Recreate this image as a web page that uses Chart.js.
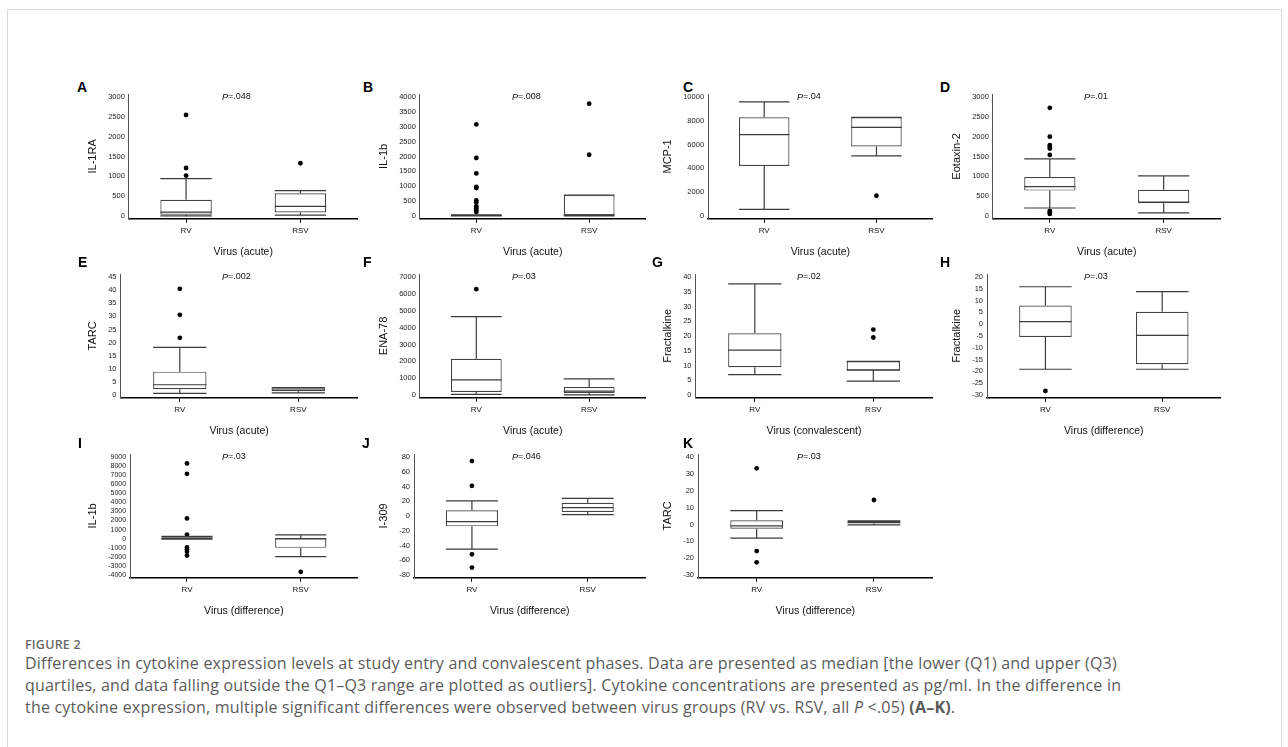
<!DOCTYPE html>
<html lang="en">
<head>
<meta charset="UTF-8">
<title>Figure 2</title>
<script src="https://cdn.jsdelivr.net/npm/chart.js"></script>
<style>
  body { margin: 0; background: #fff; }
  #figura { position: relative; width: 1288px; height: 747px; overflow: hidden; background: #fff; }
  .moldura { position: absolute; left: 7px; top: 9px; width: 1273px; height: 780px; border: 1px solid #dadada; }
  .painel { position: absolute; }
  .letra { position: absolute; font: bold 14px "Liberation Sans", Arial, sans-serif; color: #000; line-height: 14px; }
  .rotulo-fig { position: absolute; left: 25px; top: 636px; font: 600 12.5px "Open Sans", sans-serif; color: #6a6a6a; letter-spacing: 0.2px; }
  .legenda { position: absolute; left: 25px; top: 652px; font: 16px/22px "Open Sans", sans-serif; color: #5b5b5b; white-space: nowrap; letter-spacing: 0.2px; }
</style>
</head>
<body>
<div id="figura">
  <div class="moldura"></div>
  <div class="rotulo-fig">FIGURE 2</div>
  <div class="legenda">
    Differences in cytokine expression levels at study entry and convalescent phases. Data are presented as median [the lower (Q1) and upper (Q3)<br>
    quartiles, and data falling outside the Q1–Q3 range are plotted as outliers]. Cytokine concentrations are presented as pg/ml. In the difference in<br>
    the cytokine expression, multiple significant differences were observed between virus groups (RV vs. RSV, all <i>P</i> &lt;.05) <b>(A–K)</b>.
  </div>
</div>

<script>
  const grupos = ['RV', 'RSV'];
  const letras = ['A', 'B', 'C', 'D', 'E', 'F', 'G', 'H', 'I', 'J', 'K'];
  const titulosY = ['IL-1RA', 'IL-1b', 'MCP-1', 'Eotaxin-2', 'TARC', 'ENA-78', 'Fractalkine', 'Fractalkine', 'IL-1b', 'I-309', 'TARC'];
  const titulosX = ['Virus (acute)', 'Virus (acute)', 'Virus (acute)', 'Virus (acute)', 'Virus (acute)', 'Virus (acute)',
    'Virus (convalescent)', 'Virus (difference)', 'Virus (difference)', 'Virus (difference)', 'Virus (difference)'];
  const valoresP = ['.048', '.008', '.04', '.01', '.002', '.03', '.02', '.03', '.03', '.046', '.03'];

  // [min, Q1, mediana, Q3, max] para RV e RSV
  const caixasA = [[0, 30, 95, 410, 940], [20, 90, 240, 570, 640]];
  const outliersA = [[2550, 1210, 1020], [1330]];
  const ticksA = [0, 500, 1000, 1500, 2000, 2500, 3000];

  const caixasB = [[0, 0, 8, 40, 40], [0, 15, 35, 700, 700]];
  const outliersB = [[3080, 1950, 1430, 980, 940, 520, 460, 330, 260, 190, 130], [3780, 2060]];
  const ticksB = [0, 500, 1000, 1500, 2000, 2500, 3000, 3500, 4000];

  const caixasC = [[550, 4200, 6850, 8300, 9600], [5050, 5850, 7450, 8300, 8300]];
  const outliersC = [[], [1700]];
  const ticksC = [0, 2000, 4000, 6000, 8000, 10000];

  const caixasD = [[200, 640, 740, 980, 1440], [80, 320, 350, 660, 1010]];
  const outliersD = [[2730, 2000, 1790, 1750, 1700, 1540, 130, 90, 50], []];
  const ticksD = [0, 500, 1000, 1500, 2000, 2500, 3000];

  const caixasE = [[0.6, 2.2, 3.9, 8.9, 18.2], [0.8, 1.4, 1.9, 2.6, 2.8]];
  const outliersE = [[40.5, 30.6, 21.8], []];
  const ticksE = [0, 5, 10, 15, 20, 25, 30, 35, 40, 45];

  const caixasF = [[40, 180, 900, 2150, 4650], [10, 110, 230, 470, 950]];
  const outliersF = [[6280], []];
  const ticksF = [0, 1000, 2000, 3000, 4000, 5000, 6000, 7000];

  const caixasG = [[6.9, 9.4, 15.2, 20.9, 37.7], [4.7, 8.3, 8.4, 11.4, 11.4]];
  const outliersG = [[], [22.2, 19.5]];
  const ticksG = [0, 5, 10, 15, 20, 25, 30, 35, 40];

  const caixasH = [[-19.1, -5.4, 1.1, 7.9, 15.9], [-19.1, -17, -4.7, 5.3, 13.8]];
  const outliersH = [[-28.3], []];
  const ticksH = [-30, -25, -20, -15, -10, -5, 0, 5, 10, 15, 20];

  const caixasI = [[-60, 0, 30, 160, 250], [-1970, -1010, -20, 90, 420]];
  const outliersI = [[8300, 7150, 2230, 450, -970, -1190, -1440, -1860], [-3650]];
  const ticksI = [-4000, -3000, -2000, -1000, 0, 1000, 2000, 3000, 4000, 5000, 6000, 7000, 8000, 9000];

  const caixasJ = [[-45, -14, -7.7, 7.7, 20.5], [2, 5.5, 11.5, 18, 24]];
  const outliersJ = [[74.5, 41, -52, -70], []];
  const ticksJ = [-80, -60, -40, -20, 0, 20, 40, 60, 80];

  const caixasK = [[-8.1, -2.5, -0.8, 2.5, 8.2], [-0.3, 0.6, 1.2, 2.2, 2.2]];
  const outliersK = [[33.3, -15.8, -22.5], [14.5]];
  const ticksK = [-30, -20, -10, 0, 10, 20, 30, 40];

  const caixas = [caixasA, caixasB, caixasC, caixasD, caixasE, caixasF, caixasG, caixasH, caixasI, caixasJ, caixasK];
  const outliers = [outliersA, outliersB, outliersC, outliersD, outliersE, outliersF, outliersG, outliersH, outliersI, outliersJ, outliersK];
  const ticks = [ticksA, ticksB, ticksC, ticksD, ticksE, ticksF, ticksG, ticksH, ticksI, ticksJ, ticksK];

  // layout da figura (pixels)
  const colTituloX = [93, 384, 668, 957];
  const colDireita = [360, 648, 935, 1223];
  const colP = [222, 512, 797, 1084];
  const linhaTopo = [75, 255, 435];
  const linhaArea = [94, 274, 454];
  const linhaEixo = [222, 401, 581];
  const linhaLetra = [80, 255, 436];
  const letraX = [77, 363, 683, 940, 78, 363, 652, 940, 78, 362, 683];
  const posicoes = [[0, 0], [0, 1], [0, 2], [0, 3], [1, 0], [1, 1], [1, 2], [1, 3], [2, 0], [2, 1], [2, 2]];

  const FONTE = '"Liberation Sans", Arial, sans-serif';
  Chart.defaults.font.family = FONTE;
  Chart.defaults.color = '#222';

  const desenhaCaixas = {
    id: 'caixas',
    afterDatasetsDraw(chart, args, opts) {
      const { ctx, scales: { y } } = chart;
      const meta = chart.getDatasetMeta(0);
      opts.caixas.forEach((c, i) => {
        const { x, width } = meta.data[i].getProps(['x', 'width'], true);
        const e = x - width / 2, d = x + width / 2;
        const [mn, q1, md, q3, mx] = c.map(v => y.getPixelForValue(v));
        ctx.save();
        ctx.strokeStyle = '#3c3c3c';
        ctx.lineWidth = 1.2;
        ctx.beginPath();
        ctx.moveTo(x, q3); ctx.lineTo(x, mx);
        ctx.moveTo(x, q1); ctx.lineTo(x, mn);
        ctx.moveTo(e, mx); ctx.lineTo(d, mx);
        ctx.moveTo(e, mn); ctx.lineTo(d, mn);
        ctx.moveTo(e, md); ctx.lineTo(d, md);
        ctx.stroke();
        ctx.restore();
      });
    },
    afterDraw(chart, args, opts) {
      const { ctx, chartArea } = chart;
      const yy = chartArea.top + 3;
      ctx.save();
      ctx.fillStyle = '#111';
      ctx.textBaseline = 'middle';
      ctx.font = 'italic 9px ' + FONTE;
      ctx.fillText('P', opts.px, yy);
      const w = ctx.measureText('P').width;
      ctx.font = '9px ' + FONTE;
      ctx.fillText('=' + opts.p, opts.px + w, yy);
      ctx.restore();
    }
  };

  const figura = document.getElementById('figura');

  function criarPainel(i) {
    const [lin, col] = posicoes[i];
    const esquerda = Math.round(colTituloX[col] - 6.6);
    const largura = colDireita[col] - esquerda;
    const topo = linhaTopo[lin];
    const altura = Math.round(linhaEixo[lin] + 36 - topo);
    const tk = ticks[i];
    const span = tk[tk.length - 1] - tk[0];

    const letra = document.createElement('div');
    letra.className = 'letra';
    letra.textContent = letras[i];
    letra.style.left = letraX[i] + 'px';
    letra.style.top = linhaLetra[lin] + 'px';
    figura.appendChild(letra);

    const canvas = document.createElement('canvas');
    canvas.className = 'painel';
    canvas.width = largura;
    canvas.height = altura;
    canvas.style.left = esquerda + 'px';
    canvas.style.top = topo + 'px';
    canvas.style.width = largura + 'px';
    canvas.style.height = altura + 'px';
    figura.appendChild(canvas);

    const pontos = [];
    outliers[i].forEach((lista, g) => lista.forEach(v => pontos.push({ x: grupos[g], y: v })));

    new Chart(canvas, {
      type: 'bar',
      data: {
        labels: grupos,
        datasets: [
          {
            type: 'bar',
            data: caixas[i].map(c => [c[1], c[3]]),
            backgroundColor: '#fff',
            borderColor: '#444',
            borderWidth: 1.2,
            borderSkipped: false,
            barPercentage: 0.45,
            categoryPercentage: 1
          },
          {
            type: 'line',
            data: pontos,
            showLine: false,
            pointRadius: 2.4,
            pointHoverRadius: 2.4,
            pointBackgroundColor: '#000',
            pointBorderWidth: 0
          }
        ]
      },
      options: {
        responsive: false,
        animation: false,
        events: [],
        layout: { padding: { top: linhaArea[lin] - topo, left: 0, right: 0, bottom: 0 } },
        plugins: {
          legend: { display: false },
          tooltip: { enabled: false },
          caixas: { caixas: caixas[i], p: valoresP[i], px: colP[col] - esquerda }
        },
        scales: {
          x: {
            type: 'category',
            offset: true,
            grid: { display: true, drawOnChartArea: false, drawTicks: true, tickLength: 4, color: '#000', offset: false },
            border: { display: true, color: '#000', width: 1.5 },
            ticks: { font: { size: 8 }, padding: 3, color: '#111' },
            title: { display: true, text: titulosX[i], font: { size: 10.5 }, color: '#111', padding: { top: 7, bottom: 0 } }
          },
          y: {
            type: 'linear',
            min: tk[0] - 0.024 * span,
            max: tk[tk.length - 1] + 0.026 * span,
            grid: { display: false, drawTicks: false },
            border: { display: true, color: '#555', width: 1 },
            afterBuildTicks: s => { s.ticks = tk.map(v => ({ value: v })); },
            ticks: { autoSkip: false, padding: 4, font: { size: i === 8 ? 7 : 7.5 }, color: '#222', callback: v => String(v) },
            title: { display: true, text: titulosY[i], font: { size: 11 }, color: '#111', padding: { top: 0, bottom: 5 } }
          }
        }
      },
      plugins: [desenhaCaixas]
    });
  }

  for (let i = 0; i < letras.length; i++) {
    criarPainel(i);
  }
</script>
</body>
</html>
